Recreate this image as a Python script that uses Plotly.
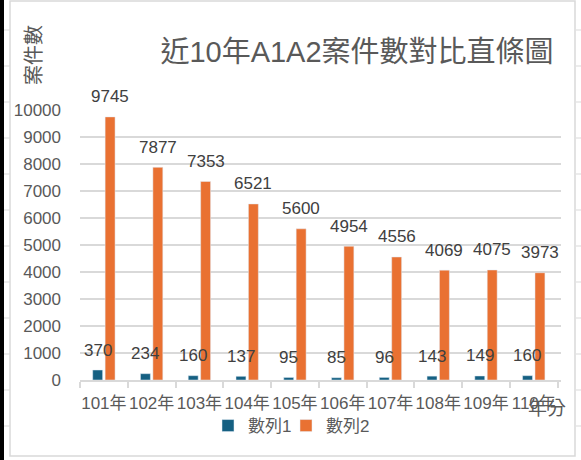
import plotly.graph_objects as go

categories = ["101年", "102年", "103年", "104年", "105年", "106年", "107年", "108年", "109年", "110年"]
series1_name = "數列1"
series2_name = "數列2"
series1 = [370, 234, 160, 137, 95, 85, 96, 143, 149, 160]
series2 = [9745, 7877, 7353, 6521, 5600, 4954, 4556, 4069, 4075, 3973]
y_ticks = [0, 1000, 2000, 3000, 4000, 5000, 6000, 7000, 8000, 9000, 10000]
y_tick_labels = [str(v) for v in y_ticks]

W, H = 581, 460
L, R, T, B = 80, 20, 110, 80
PW, PH = W - L - R, H - T - B
FONT = "Liberation Sans, Noto Sans CJK TC, sans-serif"
BLUE, ORANGE = "#156082", "#E97132"
GRID = "#D9D9D9"
TXT = "#595959"
LBL = "#404040"


def px(x):
    return (x - L) / PW


def py(y):
    return (H - B - y) / PH


fig = go.Figure()
fig.add_trace(go.Bar(x=categories, y=series1, name=series1_name, marker_color=BLUE, legend="legend"))
fig.add_trace(go.Bar(x=categories, y=series2, name=series2_name, marker_color=ORANGE, legend="legend2"))

bargap, groupgap = 0.48, 0.2
slot = PW / len(categories) * (1 - bargap) / 2
annotations = []
for vals, sh in ((series1, -slot / 2), (series2, slot / 2)):
    for c, v in zip(categories, vals):
        annotations.append(dict(x=c, y=v, xref="x", yref="y", text=str(v), showarrow=False,
                                xanchor="center", yanchor="middle", xshift=sh, yshift=20,
                                font=dict(family=FONT, size=17, color=LBL)))

# y axis title (rotated, at top)
annotations.append(dict(x=px(34), y=py(55), xref="paper", yref="paper", text="案件數",
                        textangle=-90, showarrow=False, xanchor="center", yanchor="middle",
                        font=dict(family=FONT, size=20, color=TXT)))
# x axis title
annotations.append(dict(x=px(547), y=py(408), xref="paper", yref="paper", text="年分",
                        showarrow=False, xanchor="center", yanchor="middle",
                        font=dict(family=FONT, size=19, color=TXT)))

shapes = []
# chart border
shapes.append(dict(type="rect", xref="paper", yref="paper", x0=px(10), x1=px(575), y0=py(456), y1=py(1),
                   line=dict(color=GRID, width=1.5), fillcolor="rgba(0,0,0,0)", layer="below"))
# black strip at left edge
shapes.append(dict(type="line", xref="paper", yref="paper", x0=px(2), x1=px(2), y0=py(460), y1=py(0),
                   line=dict(color="#000000", width=4), layer="above"))
# spreadsheet cell lines outside the chart border
for k in range(12):
    yy = 30 + 36 * k
    shapes.append(dict(type="line", xref="paper", yref="paper", x0=px(4), x1=px(10), y0=py(yy), y1=py(yy),
                       line=dict(color=GRID, width=1)))
    shapes.append(dict(type="line", xref="paper", yref="paper", x0=px(576), x1=px(581), y0=py(yy), y1=py(yy),
                       line=dict(color=GRID, width=1)))

legend_common = dict(orientation="h", xanchor="left", y=py(426), yanchor="middle",
                     font=dict(family=FONT, size=17, color=TXT), bgcolor="rgba(0,0,0,0)",
                     itemwidth=30)

fig.update_layout(
    width=W, height=H,
    margin=dict(l=L, r=R, t=T, b=B, autoexpand=False),
    paper_bgcolor="white", plot_bgcolor="white",
    barmode="group", bargap=bargap, bargroupgap=groupgap,
    font=dict(family=FONT, size=17, color=TXT),
    title=dict(text="近10年A1A2案件數對比直條圖", xref="paper", x=px(357), xanchor="center",
               yref="container", y=1 - 52 / H, yanchor="middle",
               font=dict(family=FONT, size=29, color=TXT)),
    showlegend=True,
    legend=dict(x=px(208), **legend_common),
    legend2=dict(x=px(286), **legend_common),
    xaxis=dict(type="category", showgrid=False, showline=True, linecolor=GRID, linewidth=1.5,
               ticks="outside", tickson="boundaries", ticklen=6, tickcolor=GRID, tickwidth=1.5,
               tickangle=0, tickfont=dict(family=FONT, size=17, color=TXT), ticklabelstandoff=7),
    yaxis=dict(range=[0, 10000], tickvals=y_ticks, ticktext=y_tick_labels, showgrid=True,
               gridcolor=GRID, gridwidth=1.5, zeroline=False, showline=False, ticks="",
               ticklabelstandoff=18, tickfont=dict(family=FONT, size=17, color=TXT)),
    annotations=annotations,
    shapes=shapes,
)

fig.write_html("out.html", config={"displayModeBar": False},
               post_script="document.body.style.margin='0';")
